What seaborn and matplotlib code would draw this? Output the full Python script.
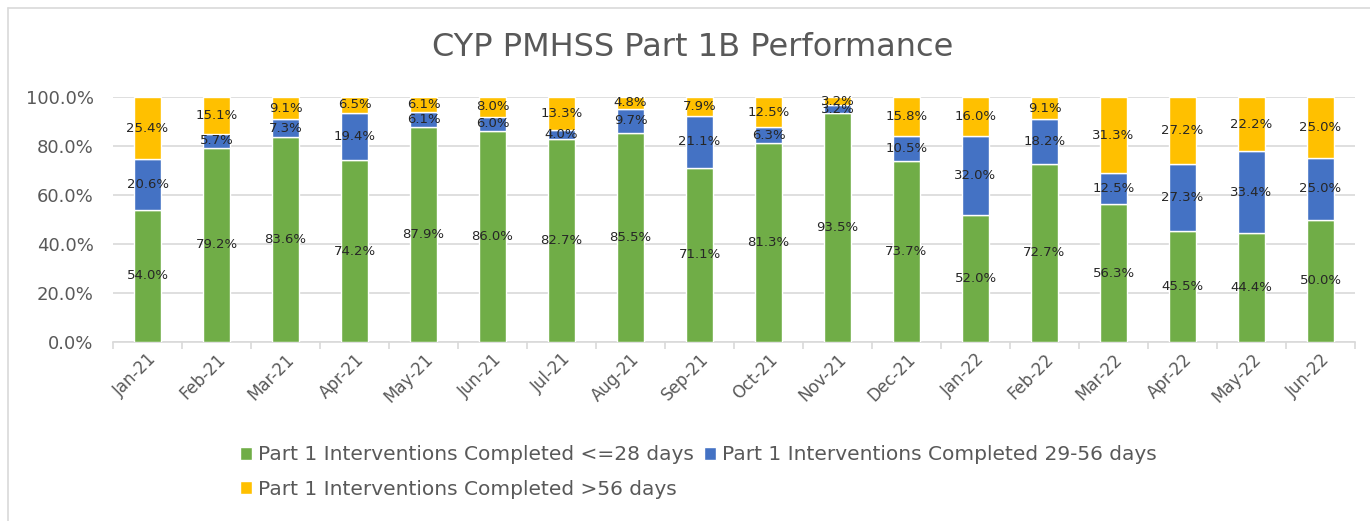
import matplotlib
matplotlib.use("Agg")
import matplotlib.pyplot as plt
import matplotlib.lines as mlines
import seaborn as sns
import numpy as np

months = ["Jan-21", "Feb-21", "Mar-21", "Apr-21", "May-21", "Jun-21", "Jul-21",
          "Aug-21", "Sep-21", "Oct-21", "Nov-21", "Dec-21", "Jan-22", "Feb-22",
          "Mar-22", "Apr-22", "May-22", "Jun-22"]
within_28 = [54.0, 79.2, 83.6, 74.2, 87.9, 86.0, 82.7, 85.5, 71.1, 81.3, 93.5,
             73.7, 52.0, 72.7, 56.3, 45.5, 44.4, 50.0]
days_29_56 = [20.6, 5.7, 7.3, 19.4, 6.1, 6.0, 4.0, 9.7, 21.1, 6.3, 3.2,
              10.5, 32.0, 18.2, 12.5, 27.3, 33.4, 25.0]
over_56 = [25.4, 15.1, 9.1, 6.5, 6.1, 8.0, 13.3, 4.8, 7.9, 12.5, 3.2,
           15.8, 16.0, 9.1, 31.3, 27.2, 22.2, 25.0]
series_names = ["Part 1 Interventions Completed <=28 days",
                "Part 1 Interventions Completed 29-56 days",
                "Part 1 Interventions Completed >56 days"]
colors = ["#70AD47", "#4472C4", "#FFC000"]
title = "CYP PMHSS Part 1B Performance"

sns.set_theme(style="white")
plt.rcParams["font.family"] = ["DejaVu Sans"]

fig = plt.figure(figsize=(13.7, 5.21), dpi=100)
ax = fig.add_axes([113 / 1370, 1 - 342 / 521, 1242 / 1370, 245 / 521])

# outer chart frame
fig.add_artist(mlines.Line2D([8 / 1370, 8 / 1370], [0, 1 - 8 / 521],
                             color="#d9d9d9", lw=1.2, transform=fig.transFigure))
fig.add_artist(mlines.Line2D([8 / 1370, 1], [1 - 8 / 521, 1 - 8 / 521],
                             color="#d9d9d9", lw=1.2, transform=fig.transFigure))

series = [within_28, days_29_56, over_56]
bottom = np.zeros(len(months))
for vals, name, col in zip(series, series_names, colors):
    vals = np.array(vals)
    sns.barplot(x=months, y=vals, bottom=bottom, color=col, width=0.4,
                ax=ax, label=name, saturation=1, zorder=3)
    for i, v in enumerate(vals):
        ax.text(i, bottom[i] + v / 2, f"{v:.1f}%", ha="center", va="center",
                fontsize=9.5, color="#262626", zorder=4)
    bottom = bottom + vals

h, l = ax.get_legend_handles_labels()
if ax.get_legend() is not None:
    ax.get_legend().remove()

ax.set_ylim(0, 100)
ax.set_xlim(-0.5, len(months) - 0.5)
ax.set_yticks(np.arange(0, 101, 20))
ax.set_yticklabels([f"{t:.1f}%" for t in np.arange(0, 101, 20)],
                   fontsize=13, color="#595959")
ax.yaxis.grid(True, color="#d9d9d9", lw=1.2, zorder=0)
ax.set_axisbelow(True)
for s in ["top", "right", "left"]:
    ax.spines[s].set_visible(False)
ax.spines["bottom"].set_color("#d9d9d9")
ax.spines["bottom"].set_linewidth(1.2)
ax.tick_params(axis="y", length=0, pad=14)

# category boundary ticks
ax.set_xticks(np.arange(len(months)))
ax.set_xticklabels(months, rotation=45, ha="right", rotation_mode="anchor",
                   fontsize=12, color="#595959")
ax.set_xticks(np.arange(-0.5, len(months), 1), minor=True)
ax.tick_params(axis="x", which="major", length=0, pad=6)
ax.tick_params(axis="x", which="minor", length=5, color="#d9d9d9", width=1.2,
               bottom=True)
ax.set_xlabel("")
ax.set_ylabel("")

fig.text(693 / 1370, 1 - 48 / 521, title, ha="center", va="center",
         fontsize=23, color="#595959")

order = [0, 2, 1]
fig.legend([h[i] for i in order], [l[i] for i in order], ncol=2,
           loc="center", bbox_to_anchor=(698 / 1370, 1 - 472 / 521),
           frameon=False, fontsize=14.5, labelcolor="#595959",
           handlelength=0.6, handleheight=0.6, handletextpad=0.3,
           columnspacing=0.5, labelspacing=0.75)

fig.savefig("out.png", dpi=100)
